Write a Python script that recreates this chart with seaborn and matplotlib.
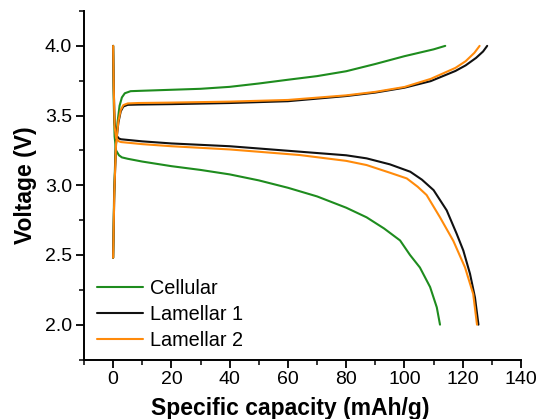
import matplotlib
matplotlib.use("Agg")
import matplotlib.pyplot as plt
import seaborn as sns
import pandas as pd
from matplotlib.ticker import MultipleLocator

sns.set_theme(style="ticks")
plt.rcParams['font.family'] = ['Liberation Sans', 'DejaVu Sans']
plt.rcParams['text.color'] = 'black'
plt.rcParams['axes.labelcolor'] = 'black'
plt.rcParams['xtick.color'] = 'black'
plt.rcParams['ytick.color'] = 'black'

# Cellular
cell_chg_x = [0, 0.3, 0.8, 1.5, 2.2, 3, 4, 6, 10, 20, 30, 40, 50, 60, 70, 80, 90, 100, 110, 114]
cell_chg_y = [2.48, 2.9, 3.25, 3.45, 3.57, 3.63, 3.66, 3.675, 3.678, 3.685, 3.692, 3.706, 3.73, 3.757, 3.783, 3.818, 3.87, 3.926, 3.975, 4.0]
cell_dis_x = [0, 0.2, 0.5, 1, 2, 3, 5, 10, 20, 30, 40, 50, 60, 70, 80, 87, 93, 98.5, 101.9, 105.3, 108.8, 111.1, 112.2]
cell_dis_y = [4.0, 3.6, 3.35, 3.25, 3.215, 3.2, 3.19, 3.17, 3.137, 3.11, 3.078, 3.035, 2.982, 2.92, 2.839, 2.77, 2.69, 2.604, 2.50, 2.41, 2.27, 2.124, 2.0]

# Lamellar 1
lam1_chg_x = [0, 0.4, 1, 1.8, 2.6, 3.5, 5, 8.6, 20, 40, 60, 80, 90, 100, 109, 117.5, 121, 124.6, 127, 128.4]
lam1_chg_y = [2.48, 2.95, 3.3, 3.45, 3.53, 3.565, 3.577, 3.579, 3.582, 3.59, 3.603, 3.64, 3.665, 3.70, 3.747, 3.82, 3.86, 3.914, 3.96, 4.0]
lam1_dis_x = [0, 0.2, 0.5, 1, 2, 2.7, 10, 20, 40, 64, 80, 87, 95, 102, 106, 110, 114.5, 117.9, 120.2, 122.5, 124.2, 125.4]
lam1_dis_y = [4.0, 3.7, 3.45, 3.36, 3.335, 3.33, 3.315, 3.30, 3.28, 3.241, 3.215, 3.193, 3.15, 3.097, 3.04, 2.965, 2.82, 2.653, 2.532, 2.365, 2.196, 2.0]

# Lamellar 2
lam2_chg_x = [0, 0.4, 1, 1.8, 2.6, 3.5, 5, 8.6, 20, 40, 60, 80, 90, 100, 109, 117.5, 121, 124, 125.8]
lam2_chg_y = [2.48, 2.95, 3.3, 3.46, 3.54, 3.575, 3.587, 3.59, 3.593, 3.60, 3.612, 3.645, 3.67, 3.705, 3.763, 3.842, 3.89, 3.95, 4.0]
lam2_dis_x = [0, 0.2, 0.5, 1, 2, 2.7, 10, 20, 40, 64, 80, 87, 95, 100.8, 104.5, 107.6, 112.2, 116.8, 120.8, 123.6, 124.9]
lam2_dis_y = [4.0, 3.7, 3.42, 3.34, 3.315, 3.31, 3.295, 3.28, 3.257, 3.217, 3.175, 3.145, 3.09, 3.049, 2.99, 2.93, 2.77, 2.60, 2.41, 2.22, 2.0]

series = [
    ("Cellular", "#1e8c1e", cell_chg_x, cell_chg_y, cell_dis_x, cell_dis_y),
    ("Lamellar 1", "#111111", lam1_chg_x, lam1_chg_y, lam1_dis_x, lam1_dis_y),
    ("Lamellar 2", "#ff8a0a", lam2_chg_x, lam2_chg_y, lam2_dis_x, lam2_dis_y),
]

fig = plt.figure(figsize=(5.41, 4.19), dpi=100)
ax = fig.add_axes([0.1553, 0.142, 0.8077, 0.8317])

for name, color, cx, cy, dx, dy in series:
    dfc = pd.DataFrame({"x": cx, "y": cy})
    dfd = pd.DataFrame({"x": dx, "y": dy})
    sns.lineplot(data=dfc, x="x", y="y", ax=ax, color=color, lw=1.5, sort=False, estimator=None, label=name)
    sns.lineplot(data=dfd, x="x", y="y", ax=ax, color=color, lw=1.5, sort=False, estimator=None)

ax.set_xlim(-10, 140)
ax.set_ylim(1.75, 4.25)
ax.set_xticks([0, 20, 40, 60, 80, 100, 120, 140])
ax.set_yticks([2.0, 2.5, 3.0, 3.5, 4.0])
ax.xaxis.set_minor_locator(MultipleLocator(10))
ax.yaxis.set_minor_locator(MultipleLocator(0.25))
ax.tick_params(which="major", direction="out", length=5.5, width=1.3, labelsize=14, color="black", labelcolor="black", pad=3)
ax.tick_params(which="minor", direction="out", length=3.5, width=1.1, color="black")
for s in ["top", "right"]:
    ax.spines[s].set_visible(False)
for s in ["left", "bottom"]:
    ax.spines[s].set_linewidth(1.4)
    ax.spines[s].set_color("black")

ax.set_xlabel("Specific capacity (mAh/g)", fontsize=16.5, fontweight="bold", color="black")
ax.set_ylabel("Voltage (V)", fontsize=16.5, fontweight="bold", color="black", labelpad=6)
ax.xaxis.set_label_coords(0.471, -0.108)

leg = ax.legend(loc="center left", bbox_to_anchor=(0.0306, 0.1297), frameon=False, fontsize=14.3,
                handlelength=2.31, handletextpad=0.34, labelspacing=0.34, borderaxespad=0, borderpad=0)

fig.savefig("out.png", dpi=100)
